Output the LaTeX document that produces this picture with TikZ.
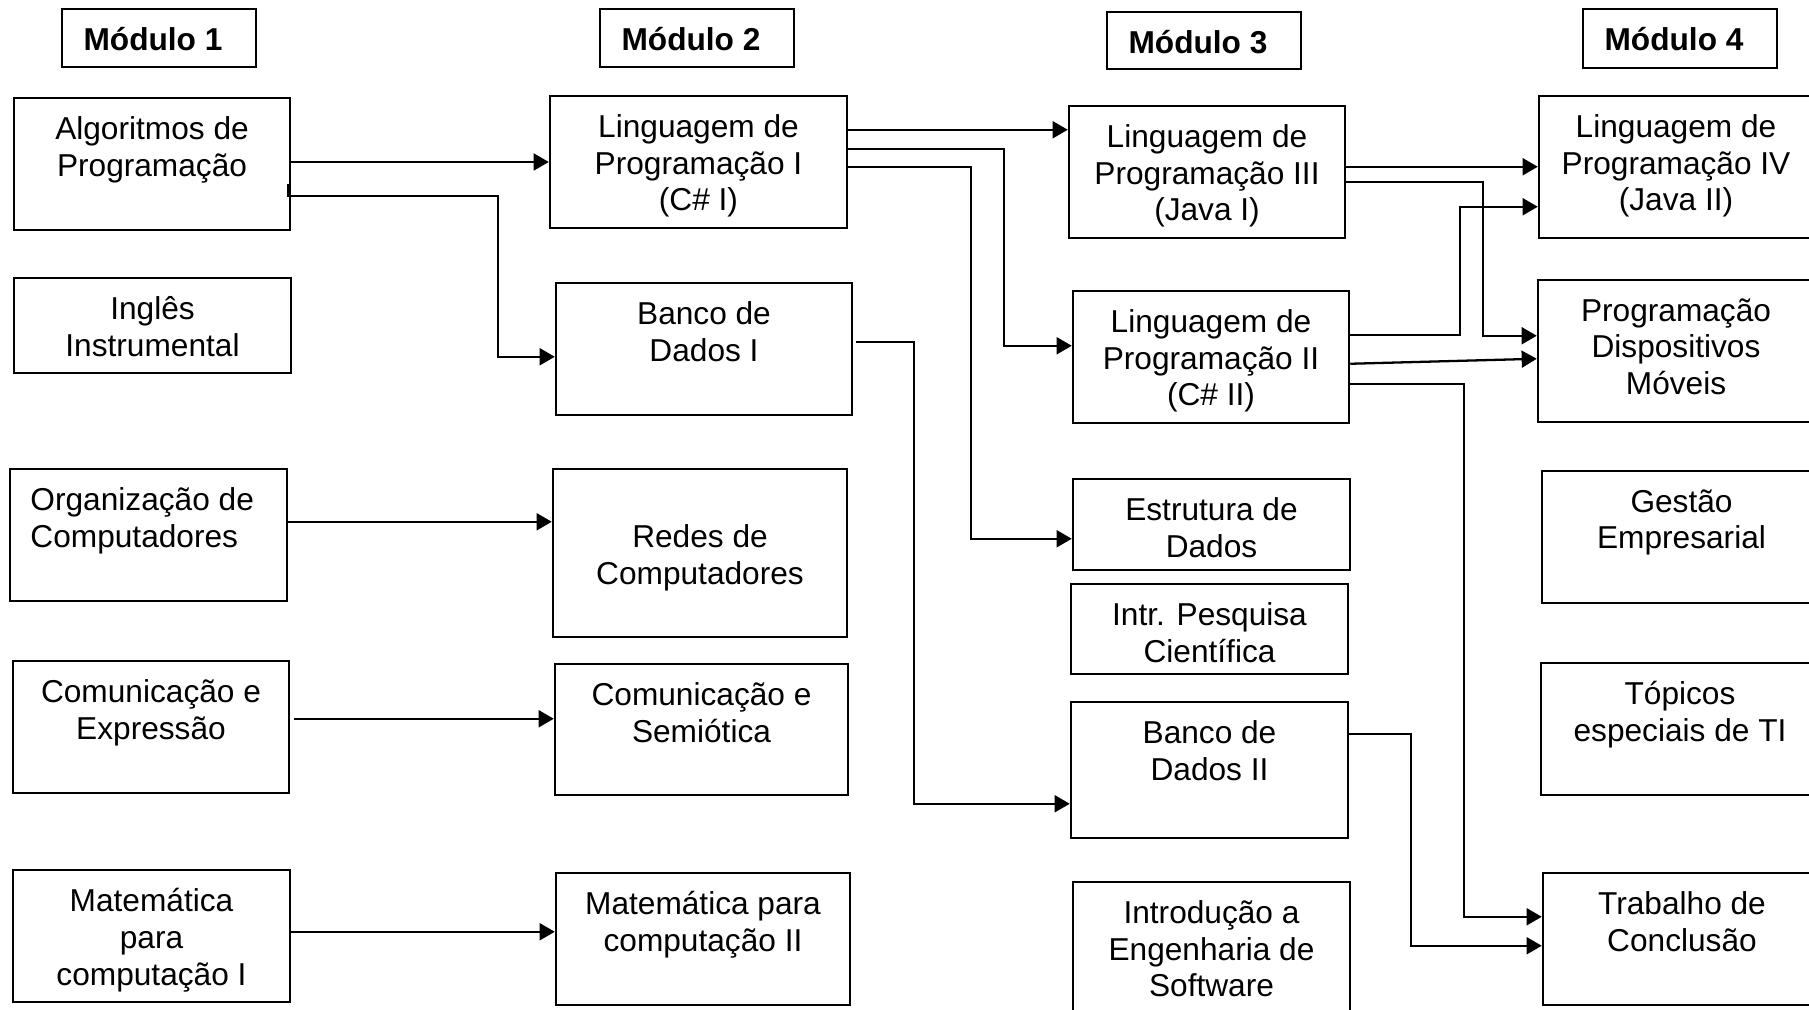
\documentclass[tikz,border=0pt]{standalone}
\usepackage{fontspec}
\setmainfont{Liberation Sans}
\usetikzlibrary{arrows.meta, calc, fit}

\tikzset{
  caixa/.style={draw, line width=0.7pt, rectangle, inner sep=0pt},
  rotulo/.style={anchor=north, inner sep=0pt, align=center, font=\fontsize{9}{10.44}\selectfont},
  seta/.style={line width=0.65pt, -{Triangle[length=4.3pt,width=4.8pt]}}
}
\newcommand{\disciplina}[5][0.19cm]{%
  \node[caixa, fit={(#3) (#4)}] (#2) {};
  \node[rotulo] (#2-t) at ([yshift=-#1]#2.north) {#5};
}

\begin{document}
\begin{tikzpicture}[x=0.01cm, y=-0.01cm]
\useasboundingbox (0,0) rectangle (1809,1010);
\clip (0,0) rectangle (1809,1010);

\disciplina{mod1}{62,9}{256,67}{\textbf{Módulo 1}\hspace{0.12cm}}
\disciplina{mod2}{600,9}{794,67}{\textbf{Módulo 2}\hspace{0.12cm}}
\disciplina{mod3}{1107,12}{1301,69}{\textbf{Módulo 3}\hspace{0.12cm}}
\disciplina{mod4}{1583,9}{1777,68}{\textbf{Módulo 4}\hspace{0.12cm}}

\disciplina{alg}{14,98}{290,230}{Algoritmos de\\Programação}
\disciplina{ing}{14,278}{291,373}{Inglês\\Instrumental}
\node[caixa, fit={(10,469) (287,601)}] (org) {};
\node[rotulo, anchor=north west, align=left] (org-t) at ([xshift=0.21cm, yshift=-0.19cm]org.north west) {Organização de\\Computadores};
\disciplina{comexp}{13,661}{289,793}{Comunicação e\\Expressão}
\disciplina{mat1}{13,870}{290,1002}{Matemática\\para\\computação I}

\disciplina{ling1}{550,96}{847,228}{Linguagem de\\Programação I\\(C\# I)}
\disciplina{bd1}{556,283}{852,415}{Banco de\\Dados I}
\disciplina[0.56cm]{redes}{553,469}{847,637}{Redes de\\Computadores}
\disciplina{comsem}{555,664}{848,795}{Comunicação e\\Semiótica}
\disciplina{mat2}{556,873}{850,1005}{Matemática para\\computação II}

\disciplina{ling3}{1069,106}{1345,238}{Linguagem de\\Programação III\\(Java I)}
\disciplina{ling2}{1073,291}{1349,423}{Linguagem de\\Programação II\\(C\# II)}
\disciplina{estr}{1073,479}{1350,570}{Estrutura de\\Dados}
\disciplina{pesq}{1071,584}{1348,674}{Intr. Pesquisa\\Científica}
\disciplina{bd2}{1071,702}{1348,838}{Banco de\\Dados II}
\disciplina{ies}{1073,882}{1350,1025}{Introdução a\\Engenharia de\\Software}

\disciplina{ling4}{1539,96}{1813,238}{Linguagem de\\Programação IV\\(Java II)}
\disciplina{disp}{1538,280}{1814,422}{Programação\\Dispositivos\\Móveis}
\disciplina{gest}{1542,471}{1821,603}{Gestão\\Empresarial}
\disciplina{topi}{1541,663}{1819,795}{Tópicos\\especiais de TI}
\disciplina{trab}{1543,873}{1821,1005}{Trabalho de\\Conclusão}

\draw[seta] (alg.east |- ling1.west) -- (ling1.west);
\draw[seta] ($(alg.north east)+(-3,87)$) |- ++(210,12) |- ($(bd1.north west)+(0,75)$);
\draw[seta] ($(org.north east)+(0,54)$) -- ($(redes.north west)+(0,54)$);
\draw[seta] ($(comexp.north east)+(4,59)$) -- ($(comsem.north west)+(0,56)$);
\draw[seta] ($(mat1.north east)+(0,63)$) -- ($(mat2.north west)+(0,60)$);

\draw[seta] ($(ling1.north east)+(0,35)$) -- ($(ling3.north west)+(0,25)$);
\draw[seta] ($(ling1.north east)+(0,54)$) -- ++(156,0) |- ($(ling2.north west)+(0,56)$);
\draw[seta] ($(ling1.north east)+(0,72)$) -- ++(123,0) |- ($(estr.north west)+(0,61)$);
\draw[seta] ($(bd1.north east)+(3,60)$) -- ++(58,0) |- ($(bd2.north west)+(0,103)$);

\draw[seta] ($(ling3.north east)+(0,62)$) -- ($(ling4.north west)+(0,72)$);
\draw[seta] ($(ling3.north east)+(0,77)$) -- ++(137,0) |- ($(disp.north west)+(0,57)$);
\draw[seta] ($(ling2.north east)+(0,45)$) -- ++(110,0) |- ($(ling4.north west)+(0,112)$);
\draw[seta] ($(ling2.north east)+(0,74)$) -- ($(disp.north west)+(0,80)$);
\draw[seta] ($(ling2.north east)+(0,94)$) -- ++(114,0) |- ($(trab.north west)+(0,45)$);
\draw[seta] ($(bd2.north east)+(0,33)$) -- ++(62,0) |- ($(trab.north west)+(0,74)$);
\end{tikzpicture}
\end{document}
